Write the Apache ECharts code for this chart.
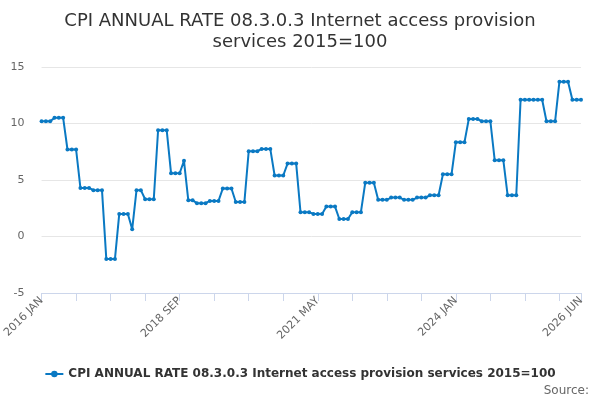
<!DOCTYPE html>
<html>
<head>
<meta charset="utf-8">
<script src="https://cdn.jsdelivr.net/npm/echarts@6/dist/echarts.min.js"></script>
<style>
html,body{margin:0;padding:0;background:#fff;}
#chart{width:600px;height:400px;}
</style>
</head>
<body>
<div id="chart"></div>
<script>
var monthNames = ['JAN','FEB','MAR','APR','MAY','JUN','JUL','AUG','SEP','OCT','NOV','DEC'];
var startYear = 2016;
var values = [
  10.2, 10.2, 10.2, 10.5, 10.5, 10.5, 7.7, 7.7, 7.7, 4.3, 4.3, 4.3,
  4.1, 4.1, 4.1, -2.0, -2.0, -2.0, 2.0, 2.0, 2.0, 0.65, 4.1, 4.1,
  3.3, 3.3, 3.3, 9.4, 9.4, 9.4, 5.6, 5.6, 5.6, 6.7, 3.2, 3.2,
  2.95, 2.95, 2.95, 3.15, 3.15, 3.15, 4.25, 4.25, 4.25, 3.05, 3.05, 3.05,
  7.55, 7.55, 7.55, 7.75, 7.75, 7.75, 5.4, 5.4, 5.4, 6.45, 6.45, 6.45,
  2.15, 2.15, 2.15, 2.0, 2.0, 2.0, 2.65, 2.65, 2.65, 1.55, 1.55, 1.55,
  2.15, 2.15, 2.15, 4.75, 4.75, 4.75, 3.25, 3.25, 3.25, 3.45, 3.45, 3.45,
  3.25, 3.25, 3.25, 3.45, 3.45, 3.45, 3.65, 3.65, 3.65, 5.5, 5.5, 5.5,
  8.35, 8.35, 8.35, 10.4, 10.4, 10.4, 10.2, 10.2, 10.2, 6.75, 6.75, 6.75,
  3.65, 3.65, 3.65, 12.1, 12.1, 12.1, 12.1, 12.1, 12.1, 10.2, 10.2, 10.2,
  13.7, 13.7, 13.7, 12.1, 12.1, 12.1
];
var categories = values.map(function (v, i) {
  return (startYear + Math.floor(i / 12)) + ' ' + monthNames[i % 12];
});
var labelledTicks = ['2016 JAN', '2018 SEP', '2021 MAY', '2024 JAN', '2026 JUN'];
var yTicks = [-5, 0, 5, 10, 15];
var seriesName = 'CPI ANNUAL RATE 08.3.0.3 Internet access provision services 2015=100';
var titleText = 'CPI ANNUAL RATE 08.3.0.3 Internet access provision\nservices 2015=100';

var lastIdx = categories.length - 1;
var chart = echarts.init(document.getElementById('chart'), null, {renderer: 'canvas'});
chart.setOption({
  animation: false,
  backgroundColor: '#ffffff',
  title: {
    text: titleText,
    left: 'center',
    top: 6,
    textStyle: {
      fontFamily: 'DejaVu Sans',
      fontSize: 18,
      fontWeight: 'normal',
      color: '#333333',
      lineHeight: 21
    }
  },
  legend: {
    bottom: 15,
    left: 'center',
    itemWidth: 18,
    itemHeight: 8,
    itemGap: 5,
    textStyle: {
      fontFamily: 'DejaVu Sans',
      fontSize: 12,
      fontWeight: 'bold',
      color: '#333333'
    },
    data: [seriesName]
  },
  graphic: [{
    type: 'text',
    right: 11,
    bottom: 3,
    style: {
      text: 'Source:',
      fontFamily: 'DejaVu Sans',
      fontSize: 12,
      fill: '#666666'
    }
  }],
  grid: {
    left: 40,
    right: 19,
    top: 67,
    bottom: 107,
    containLabel: false
  },
  xAxis: {
    type: 'category',
    data: categories,
    boundaryGap: false,
    axisLine: {show: true, onZero: false, lineStyle: {color: '#ccd6eb', width: 1}},
    axisTick: {
      show: true,
      length: 8,
      lineStyle: {color: '#ccd6eb'},
      interval: function (i) { return i % 8 === 0 || i === lastIdx; }
    },
    axisLabel: {
      rotate: 45,
      fontFamily: 'DejaVu Sans',
      fontSize: 11,
      color: '#666666',
      margin: 6,
      interval: function (i, v) { return labelledTicks.indexOf(v) >= 0; }
    },
    splitLine: {show: false}
  },
  yAxis: {
    type: 'value',
    min: yTicks[0],
    max: yTicks[yTicks.length - 1],
    interval: 5,
    axisLine: {show: false},
    axisTick: {show: false},
    axisLabel: {
      fontFamily: 'DejaVu Sans',
      fontSize: 11,
      color: '#666666',
      margin: 17
    },
    splitLine: {show: true, lineStyle: {color: '#e6e6e6', width: 1}}
  },
  series: [{
    name: seriesName,
    type: 'line',
    data: values,
    color: '#0a79c3',
    lineStyle: {width: 2, color: '#0a79c3'},
    itemStyle: {color: '#0a79c3'},
    symbol: 'circle',
    symbolSize: 4,
    showSymbol: true,
    showAllSymbol: true
  }]
});
</script>
</body>
</html>
